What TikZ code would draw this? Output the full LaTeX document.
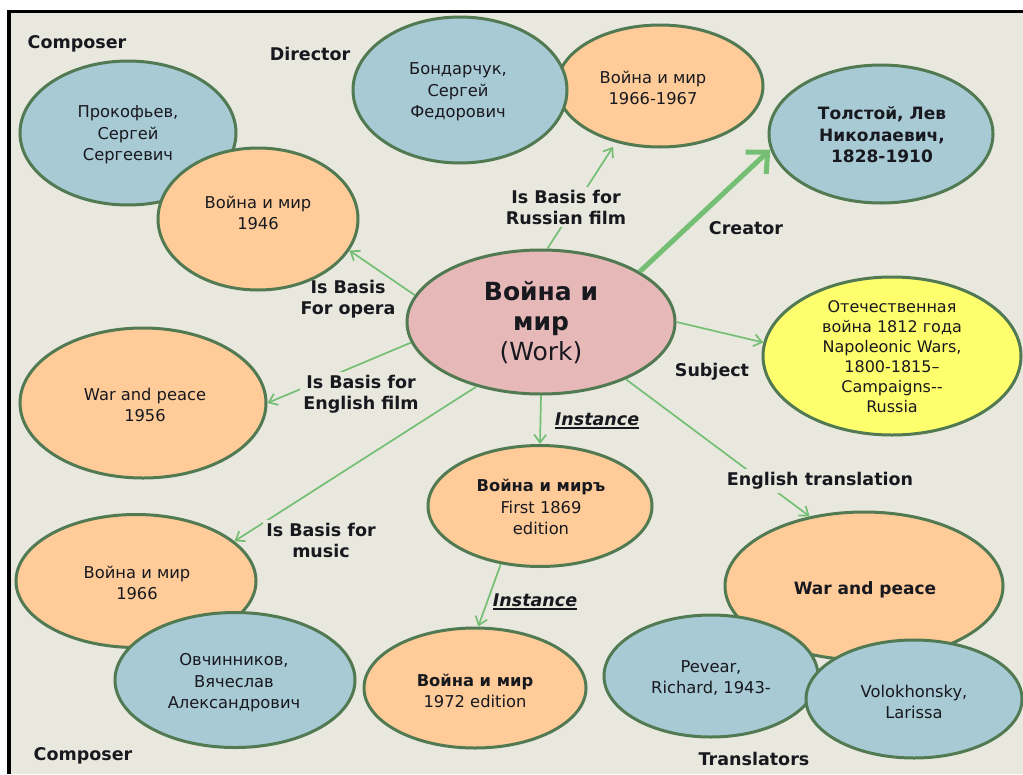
\documentclass[tikz,border=0pt]{standalone}
\usepackage{fontspec}
\setmainfont{DejaVu Sans}
\usetikzlibrary{shapes.geometric,arrows.meta}
\definecolor{bgc}{HTML}{E9E8DE}
\definecolor{edgec}{HTML}{527A52}
\definecolor{linkc}{HTML}{74BF74}
\definecolor{bluec}{HTML}{A8CAD4}
\definecolor{orangec}{HTML}{FFCC99}
\definecolor{pinkc}{HTML}{E6B8B8}
\definecolor{yellowc}{HTML}{FFFF6E}
\definecolor{txtc}{HTML}{18181F}
\newcommand\lblfont{\fontsize{17.5}{21}\selectfont\bfseries}
\newcommand\regfont{\fontsize{16.3}{21.5}\selectfont}
\newcommand\boldefont{\fontsize{17}{21.5}\selectfont\bfseries}
\newcommand\titlefont{\fontsize{25}{30}\selectfont}
\newcommand\thickul[1]{\setbox0\hbox{#1}\leavevmode\rlap{\rule[-4pt]{\wd0}{2pt}}\box0}
\begin{document}
\begin{tikzpicture}[x=1pt,y=-1pt,
  ell/.style={ellipse,draw=edgec,line width=3pt,inner sep=0pt,outer sep=1.5pt},
  ellsz/.style 2 args={minimum width=#1pt,minimum height=#2pt},
  bnode/.style={ell,fill=bluec},
  onode/.style={ell,fill=orangec},
  pnode/.style={ell,fill=pinkc},
  ynode/.style={ell,fill=yellowc},
  etx/.style={font=\regfont,align=center,text=txtc,inner sep=0pt},
  betx/.style={font=\boldefont,align=center,text=txtc,inner sep=0pt},
  lbl/.style={font=\lblfont,align=center,text=txtc,fill=bgc,inner sep=3pt},
  nlbl/.style={font=\lblfont,align=center,text=txtc,inner sep=3pt},
  inst/.style={font=\lblfont\itshape,text=txtc,inner sep=1pt},
  conn/.style={draw=linkc,line width=1.7pt,-{Straight Barb[length=8pt,width=12pt]}},
  bigconn/.style={draw=linkc,line width=5pt,-{Straight Barb[length=16pt,width=30pt]}}
]
\useasboundingbox (0,0) rectangle (1023,774);
\fill[white] (0,0) rectangle (1023,774);
\fill[bgc] (9,12) rectangle (1023,774);
\draw[black,line width=3.5pt] (7,11.5) -- (1023,11.5);
\draw[black,line width=3.5pt] (9,10) -- (9,774);

% ellipses
\node[bnode,ellsz={216}{144}] (pro) at (128,133) {};
\node[onode,ellsz={200}{142}] (op46) at (258,219) {};
\node[onode,ellsz={206}{122}] (ru) at (660,86) {};
\node[bnode,ellsz={214}{146}] (bond) at (460,90) {};
\node[bnode,ellsz={224}{138}] (tol) at (881,134) {};
\node[pnode,ellsz={268}{144}] (work) at (541,322) {};
\node[ynode,ellsz={258}{158}] (subj) at (892,356) {};
\node[onode,ellsz={246}{150}] (en56) at (143,403) {};
\node[onode,ellsz={224}{121}] (first) at (540,506) {};
\node[onode,ellsz={222}{120}] (ed72) at (475,688) {};
\node[onode,ellsz={240}{133}] (mus) at (136,581) {};
\node[bnode,ellsz={240}{135}] (ovch) at (235,680) {};
\node[onode,ellsz={278}{148}] (wp) at (864,586) {};
\node[bnode,ellsz={214}{122}] (pev) at (711,676) {};
\node[bnode,ellsz={216}{118}] (vol) at (914,699) {};

% ellipse texts
\node[etx] (tpro) at (128,135) {Прокофьев,\\Сергей\\Сергеевич};
\node[etx] (top46) at (258,213) {Война и мир\\1946};
\node[etx] (tbond) at (458,92) {Бондарчук,\\Сергей\\Федорович};
\node[etx] (tru) at (653,88) {Война и мир\\1966-1967};
\node[betx] (ttol) at (882,135) {Толстой, Лев\\Николаевич,\\1828-1910};
\node[font=\titlefont,align=center,text=txtc,inner sep=0pt] (twork) at (541,323) {\textbf{Война и}\\\textbf{мир}\\(Work)};
\node[etx,font=\fontsize{16}{20}\selectfont] (tsubj) at (892,357) {Отечественная\\война 1812 года\\Napoleonic Wars,\\1800-1815–\\Campaigns-{}-\\Russia};
\node[etx] (ten56) at (145,405) {War and peace\\1956};
\node[etx] (tfirst) at (541,507) {\textbf{Война и миръ}\\First 1869\\edition};
\node[etx] (ted72) at (475,691) {\textbf{Война и мир}\\1972 edition};
\node[etx] (tmus) at (137,583) {Война и мир\\1966};
\node[etx] (tovch) at (234,683) {Овчинников,\\Вячеслав\\Александрович};
\node[betx] (twp) at (865,590) {War and peace};
\node[etx] (tpev) at (711,678) {Pevear,\\Richard, 1943-};
\node[etx] (tvol) at (914,702) {Volokhonsky,\\Larissa};

% connectors
\draw[conn] (work.168.5) -- (op46.341);
\draw[conn,shorten >=5pt] (work.85.2) -- (ru.232);
\draw[bigconn] (work.27.5) -- (tol.188.2);
\draw[conn] (work.-0.5) -- (subj.174.3);
\draw[conn] (work.326) -- (wp.128.7);
\draw[conn] (work.south) -- (first.north);
\draw[conn] (first.236.7) -- (ed72.87.1);
\draw[conn] (work.189.8) -- (en56.0.5);
\draw[conn] (work.225.4) -- (mus.22.4);

% labels
\node[lbl] (lcomp1) at (77,44) {Composer};
\node[lbl] (ldir) at (310,54) {Director};
\node[lbl] (lrus) at (566,207) {Is Basis for\\Russian film};
\node[lbl] (lcre) at (746,228) {Creator};
\node[nlbl] (lopera) at (348,299) {Is Basis\\For opera};
\node[lbl] (lengf) at (361,394) {Is Basis for\\English film};
\node[lbl] (lsubj) at (712,372) {Subject};
\node[inst] (linst1) at (597,421) {\thickul{Instance}};
\node[lbl] (ltrans) at (820,481) {English translation};
\node[lbl] (lmus) at (321,540) {Is Basis for\\music};
\node[inst] (linst2) at (535,602) {\thickul{Instance}};
\node[lbl] (lcomp2) at (83,756) {Composer};
\node[lbl] (ltr) at (754,759) {Translators};
\end{tikzpicture}
\end{document}
